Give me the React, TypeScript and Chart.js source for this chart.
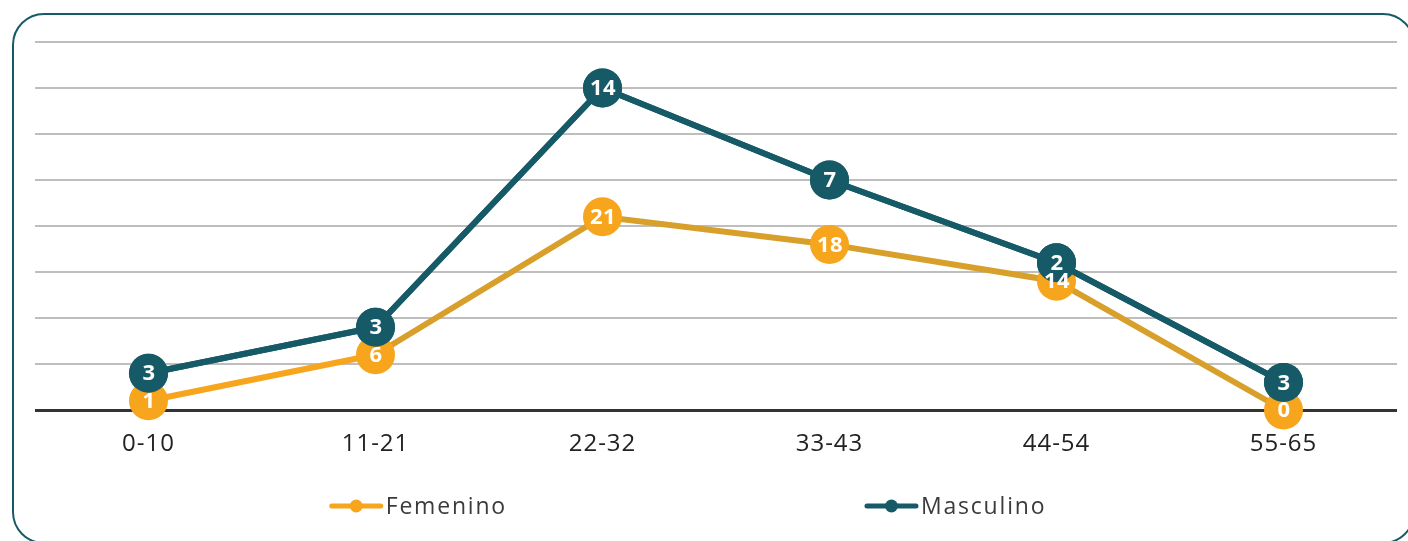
import React, { useEffect, useRef } from 'react';
import { Chart, registerables } from 'chart.js';

Chart.register(...registerables);

// ---- data ----
const categories = ['0-10', '11-21', '22-32', '33-43', '44-54', '55-65'];
const femenino = [1, 6, 21, 18, 14, 0];
const masculino = [3, 3, 14, 7, 2, 3];
const seriesNames = ['Femenino', 'Masculino'];
const yMin = 0;
const yMax = 40;
const yStep = 5;

// ---- styles ----
const ORANGE = '#F6A51D';
const MUSTARD = '#D8A02B';
const TEAL = '#155A66';
const FONT = '"Open Sans", "DejaVu Sans", sans-serif';

const letterSpacingPlugin = {
  id: 'letterSpacingPlugin',
  beforeDraw(chart: any) {
    (chart.ctx as any).letterSpacing = '1px';
  },
};

// draw the Masculino series once more on top, then the value labels
const valueLabels = {
  id: 'valueLabels',
  afterDatasetsDraw(chart: any) {
    const ctx = chart.ctx;
    const topMeta = chart.getDatasetMeta(1);
    ctx.save();
    topMeta.controller.draw();
    ctx.restore();

    ctx.save();
    ctx.font = `bold 22px ${FONT}`;
    (ctx as any).letterSpacing = '0.5px';
    ctx.fillStyle = '#ffffff';
    ctx.textAlign = 'center';
    ctx.textBaseline = 'middle';
    [1, 0].forEach((di) => {
      const meta = chart.getDatasetMeta(di);
      const data = chart.data.datasets[di].data;
      meta.data.forEach((pt: any, i: number) => {
        ctx.fillText(String(data[i]), pt.x + 0.5, pt.y + 1);
      });
    });
    ctx.restore();
  },
};

const bottomLegend = {
  id: 'bottomLegend',
  afterDraw(chart: any) {
    const { ctx, chartArea } = chart;
    ctx.save();
    ctx.font = `500 23px ${FONT}`;
    (ctx as any).letterSpacing = '1.8px';
    const marker = 53;
    const textGap = 3;
    const itemGap = 358;
    const items = chart.data.datasets.map((ds: any) => ({
      text: ds.label as string,
      color: ds.backgroundColor as string,
    }));
    const widths = items.map((it: any) => marker + textGap + ctx.measureText(it.text).width);
    const total = widths.reduce((a: number, b: number) => a + b, 0) + itemGap * (items.length - 1);
    const cx = (chartArea.left + chartArea.right) / 2 - 28;
    const y = chart.height - 35;
    let x = cx - total / 2;
    items.forEach((it: any, i: number) => {
      ctx.strokeStyle = it.color;
      ctx.lineWidth = 5;
      ctx.lineCap = 'round';
      ctx.beginPath();
      ctx.moveTo(x + 2, y);
      ctx.lineTo(x + marker - 2, y);
      ctx.stroke();
      ctx.fillStyle = it.color;
      ctx.beginPath();
      ctx.arc(x + marker / 2, y, 6.5, 0, Math.PI * 2);
      ctx.fill();
      ctx.fillStyle = '#3b3b3b';
      ctx.textAlign = 'left';
      ctx.textBaseline = 'middle';
      ctx.fillText(it.text, x + marker + textGap, y + 1);
      x += widths[i] + itemGap;
    });
    ctx.restore();
  },
};

export default function App() {
  const canvasRef = useRef<HTMLCanvasElement | null>(null);

  useEffect(() => {
    if (!canvasRef.current) return;
    Chart.defaults.font.family = FONT;
    const chart = new Chart(canvasRef.current, {
      type: 'line',
      data: {
        labels: categories,
        datasets: [
          {
            label: seriesNames[0],
            data: femenino,
            borderColor: ORANGE,
            backgroundColor: ORANGE,
            pointBackgroundColor: ORANGE,
            pointBorderColor: ORANGE,
            pointBorderWidth: 0,
            pointRadius: 19.5,
            pointHoverRadius: 19.5,
            borderWidth: 6,
            fill: false,
            tension: 0,
            clip: false as any,
            segment: {
              borderColor: (c: any) => (c.p0DataIndex === 0 ? ORANGE : MUSTARD),
            },
          },
          {
            label: seriesNames[1],
            data: masculino,
            borderColor: TEAL,
            backgroundColor: TEAL,
            pointBackgroundColor: TEAL,
            pointBorderColor: TEAL,
            pointBorderWidth: 0,
            pointRadius: 19.5,
            pointHoverRadius: 19.5,
            borderWidth: 6,
            fill: false,
            tension: 0,
            clip: false as any,
          },
        ],
      },
      options: {
        animation: false,
        responsive: false,
        maintainAspectRatio: false,
        layout: { autoPadding: false, padding: { left: 35, right: 11, top: 42, bottom: 71 } },
        plugins: {
          legend: { display: false },
          tooltip: { enabled: false },
          title: { display: false },
        },
        scales: {
          x: {
            type: 'category',
            offset: true,
            grid: { display: false, drawTicks: false },
            border: { display: false },
            ticks: {
              color: '#222222',
              font: { size: 24, family: FONT, weight: '500' },
              padding: 20,
              maxRotation: 0,
              autoSkip: false,
            },
            afterFit: (scale: any) => {
              scale.height = 60;
              scale.paddingLeft = 0;
              scale.paddingRight = 0;
            },
          },
          y: {
            stacked: true,
            min: yMin,
            max: yMax,
            ticks: { display: false, stepSize: yStep },
            border: { display: false },
            grid: {
              drawTicks: false,
              color: (c: any) => (c.tick && c.tick.value === 0 ? '#333333' : '#BEBEBE'),
              lineWidth: (c: any) => (c.tick && c.tick.value === 0 ? 3 : 2),
            },
            afterFit: (scale: any) => {
              scale.width = 0;
            },
          },
        },
      },
      plugins: [letterSpacingPlugin, valueLabels, bottomLegend],
    } as any);
    return () => chart.destroy();
  }, []);

  return (
    <div
      style={{
        position: 'fixed',
        left: 0,
        top: 0,
        width: 1408,
        height: 541,
        overflow: 'hidden',
        background: '#ffffff',
      }}
    >
      <div
        style={{
          position: 'absolute',
          left: 12,
          top: 13,
          width: 1403,
          height: 531,
          border: `2.5px solid ${TEAL}`,
          borderRadius: 32,
          boxSizing: 'border-box',
        }}
      />
      <canvas
        ref={canvasRef}
        width={1408}
        height={541}
        style={{ position: 'absolute', left: 0, top: 0, width: 1408, height: 541 }}
      />
    </div>
  );
}
